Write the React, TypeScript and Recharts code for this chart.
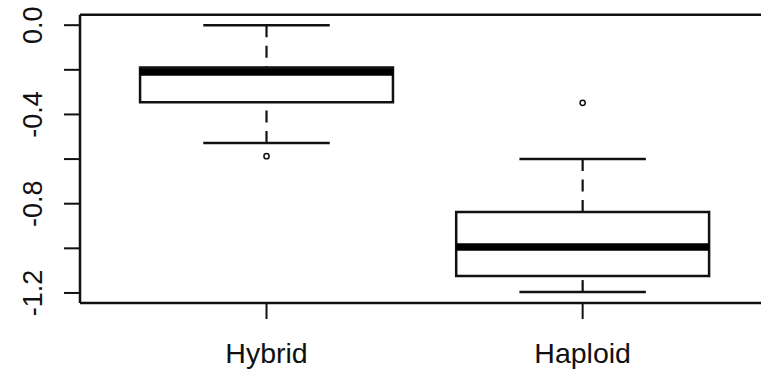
import React from 'react';
import {
  ComposedChart,
  XAxis,
  YAxis,
  ReferenceArea,
  ReferenceLine,
  Scatter,
} from 'recharts';

// ---- data ----
const categories = ['Hybrid', 'Haploid'];
const whiskerLow = [-0.528, -1.196];
const q1 = [-0.345, -1.124];
const median = [-0.21, -0.994];
const q3 = [-0.19, -0.837];
const whiskerHigh = [0.0, -0.6];
const outliers = [[-0.587], [-0.348]];
const yTicks = [-1.2, -1.0, -0.8, -0.6, -0.4, -0.2, 0.0];
const yLabelled = [-1.2, -0.8, -0.4, 0.0];

// ---- axis ranges / styling constants ----
const X_DOMAIN: [number, number] = [0.41, 2.58];
const Y_DOMAIN: [number, number] = [-1.245, 0.047];
const FONT = '"Liberation Sans", Arial, sans-serif';
const INK = '#111';
const BOX_HALF = 0.4;
const CAP_HALF = 0.2;

const positions = categories.map((_, i) => i + 1);
const outlierPoints = outliers.flatMap((vals, i) =>
  vals.map((v) => ({ x: positions[i], y: v }))
);

const YTick = (props: any) => {
  const { y, payload } = props;
  const v = Number(payload.value);
  const show = yLabelled.some((t) => Math.abs(t - v) < 1e-6);
  if (!show) return null;
  const bx = 42;
  return (
    <text
      x={bx}
      y={y}
      transform={`rotate(-90, ${bx}, ${y})`}
      textAnchor="middle"
      fontFamily={FONT}
      fontSize={27}
      fill={INK}
    >
      {v.toFixed(1)}
    </text>
  );
};

const XTick = (props: any) => {
  const { x, payload } = props;
  const idx = Math.round(Number(payload.value)) - 1;
  return (
    <text
      x={x}
      y={363}
      textAnchor="middle"
      fontFamily={FONT}
      fontSize={28.5}
      fill={INK}
    >
      {categories[idx]}
    </text>
  );
};

const OutlierShape = (props: any) => {
  const { cx, cy } = props;
  return <circle cx={cx} cy={cy} r={2.6} fill="none" stroke={INK} strokeWidth={1.5} />;
};

export default function App() {
  return (
    <div
      style={{
        position: 'absolute',
        left: 0,
        top: 0,
        width: 761,
        height: 372,
        overflow: 'hidden',
        background: '#fff',
      }}
    >
      <ComposedChart
        width={766}
        height={372}
        margin={{ top: 14.7, right: 0, bottom: 0, left: 0 }}
      >
        <XAxis
          dataKey="x"
          type="number"
          domain={X_DOMAIN}
          ticks={positions}
          tick={<XTick />}
          tickSize={16}
          tickLine={{ stroke: INK, strokeWidth: 2 }}
          axisLine={false}
          height={69}
          allowDataOverflow
        />
        <YAxis
          type="number"
          domain={Y_DOMAIN}
          ticks={yTicks}
          tick={<YTick />}
          tickSize={16}
          tickLine={{ stroke: INK, strokeWidth: 2 }}
          axisLine={false}
          width={80}
          allowDataOverflow
        />
        {/* plot frame (right side lies beyond the visible page) */}
        <ReferenceLine y={Y_DOMAIN[1]} stroke={INK} strokeWidth={2.5} ifOverflow="visible" />
        <ReferenceLine y={Y_DOMAIN[0]} stroke={INK} strokeWidth={2.5} ifOverflow="visible" />
        <ReferenceLine x={X_DOMAIN[0]} stroke={INK} strokeWidth={2.5} ifOverflow="visible" />
        {positions.map((c, i) => (
          <React.Fragment key={categories[i]}>
            <ReferenceLine
              segment={[
                { x: c, y: whiskerHigh[i] },
                { x: c, y: q3[i] },
              ]}
              stroke={INK}
              strokeWidth={2.2}
              strokeDasharray="12 8.5"
              ifOverflow="visible"
            />
            <ReferenceLine
              segment={[
                { x: c, y: whiskerLow[i] },
                { x: c, y: q1[i] },
              ]}
              stroke={INK}
              strokeWidth={2.2}
              strokeDasharray="12 8.5"
              ifOverflow="visible"
            />
            <ReferenceLine
              segment={[
                { x: c - CAP_HALF, y: whiskerHigh[i] },
                { x: c + CAP_HALF, y: whiskerHigh[i] },
              ]}
              stroke={INK}
              strokeWidth={2.4}
              ifOverflow="visible"
            />
            <ReferenceLine
              segment={[
                { x: c - CAP_HALF, y: whiskerLow[i] },
                { x: c + CAP_HALF, y: whiskerLow[i] },
              ]}
              stroke={INK}
              strokeWidth={2.4}
              ifOverflow="visible"
            />
            <ReferenceArea
              x1={c - BOX_HALF}
              x2={c + BOX_HALF}
              y1={q1[i]}
              y2={q3[i]}
              fill="#fff"
              fillOpacity={1}
              stroke={INK}
              strokeWidth={2.5}
              ifOverflow="visible"
            />
            <ReferenceLine
              segment={[
                { x: c - BOX_HALF, y: median[i] },
                { x: c + BOX_HALF, y: median[i] },
              ]}
              stroke="#000"
              strokeWidth={7.5}
              ifOverflow="visible"
            />
          </React.Fragment>
        ))}
        <Scatter
          data={outlierPoints}
          dataKey="y"
          shape={<OutlierShape />}
          isAnimationActive={false}
        />
      </ComposedChart>
    </div>
  );
}
